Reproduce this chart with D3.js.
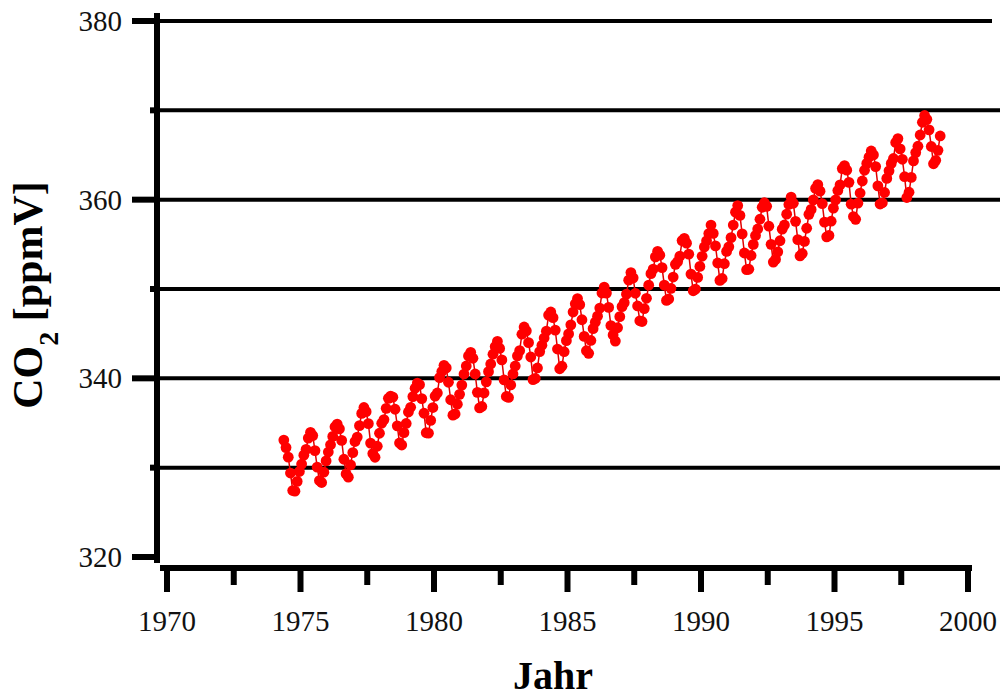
<!DOCTYPE html>
<html>
<head>
<meta charset="utf-8">
<script src="https://cdn.jsdelivr.net/npm/d3@7"></script>
<style>
html,body{margin:0;padding:0;background:#fff;}
svg{display:block;}
</style>
</head>
<body>
<svg id="chart" width="1000" height="698"></svg>
<script>
// Mauna Loa monthly CO2 (ppmV), May 1974 – Dec 1998
const years = [1974,1975,1976,1977,1978,1979,1980,1981,1982,1983,1984,1985,1986,1987,1988,1989,1990,1991,1992,1993,1994,1995,1996,1997,1998];
const co2_1974 = [null,null,null,null,333.09,332.25,331.18,329.40,327.44,327.37,328.46,329.57];
const co2_1975 = [330.40,331.40,332.04,333.31,333.96,333.59,331.91,330.06,328.56,328.34,329.49,330.76];
const co2_1976 = [331.75,332.56,333.50,334.58,334.87,334.34,333.05,330.94,329.30,328.94,330.31,331.68];
const co2_1977 = [332.93,333.42,334.70,336.07,336.74,336.27,334.93,332.75,331.58,331.16,332.40,333.85];
const co2_1978 = [334.97,335.38,336.64,337.76,338.01,337.89,336.54,334.68,332.76,332.54,333.92,334.95];
const co2_1979 = [336.23,336.76,337.96,338.89,339.47,339.29,337.73,336.09,333.91,333.86,335.29,336.73];
const co2_1980 = [338.01,338.36,340.08,340.77,341.46,341.17,339.56,337.60,335.88,336.01,337.10,338.21];
const co2_1981 = [339.24,340.48,341.38,342.51,342.91,342.25,340.49,338.43,336.69,336.85,338.36,339.61];
const co2_1982 = [340.75,341.61,342.70,343.56,344.13,343.35,342.06,339.82,337.97,337.86,339.26,340.49];
const co2_1983 = [341.38,342.52,343.10,344.94,345.75,345.32,343.99,342.39,339.86,339.99,341.16,342.99];
const co2_1984 = [343.70,344.51,345.28,347.08,347.43,346.79,345.40,343.28,341.07,341.35,342.98,344.22];
const co2_1985 = [344.97,345.99,347.42,348.35,348.93,348.25,346.56,344.69,343.09,342.80,344.24,345.56];
const co2_1986 = [346.29,346.96,347.86,349.55,350.21,349.54,347.94,345.91,344.86,344.17,345.66,346.90];
const co2_1987 = [348.02,348.47,349.42,350.99,351.84,351.25,349.52,348.10,346.44,346.36,347.81,348.96];
const co2_1988 = [350.43,351.72,352.22,353.59,354.22,353.79,352.39,350.44,348.72,348.88,350.07,351.34];
const co2_1989 = [352.76,353.07,353.68,355.42,355.67,355.13,353.90,351.67,349.80,349.99,351.30,352.53];
const co2_1990 = [353.66,354.70,355.39,356.20,357.16,356.22,354.82,352.91,350.96,351.18,352.83,354.21];
const co2_1991 = [354.72,355.75,357.16,358.60,359.34,358.24,356.17,354.03,352.16,352.21,353.75,354.99];
const co2_1992 = [355.99,356.72,357.81,359.15,359.66,359.25,357.03,355.00,353.01,353.31,354.16,355.40];
const co2_1993 = [356.70,357.17,358.38,359.46,360.28,359.60,357.57,355.52,353.70,353.98,355.33,356.80];
const co2_1994 = [358.36,358.91,359.97,361.26,361.68,360.95,359.55,357.49,355.84,356.00,357.59,359.05];
const co2_1995 = [359.98,361.03,361.66,363.48,363.82,363.30,361.94,359.50,358.11,357.80,359.61,360.74];
const co2_1996 = [362.09,363.29,364.06,364.76,365.45,365.01,363.70,361.54,359.51,359.65,360.80,362.38];
const co2_1997 = [363.23,364.06,364.61,366.40,366.84,365.68,364.52,362.57,360.24,360.83,362.49,364.34];
const co2_1998 = [365.27,365.98,367.24,368.66,369.42,368.99,367.82,365.95,364.02,364.40,365.52,367.13];
const co2ByYear = [co2_1974,co2_1975,co2_1976,co2_1977,co2_1978,co2_1979,co2_1980,co2_1981,co2_1982,co2_1983,co2_1984,co2_1985,co2_1986,co2_1987,co2_1988,co2_1989,co2_1990,co2_1991,co2_1992,co2_1993,co2_1994,co2_1995,co2_1996,co2_1997,co2_1998];

const xMajorTicks = [1970,1975,1980,1985,1990,1995,2000];
const xMinorTicks = [1972.5,1977.5,1982.5,1987.5,1992.5,1997.5];
const yMajorTicks = [320,340,360,380];
const yMinorTicks = [330,350,370];
const gridValues = [330,340,350,360,370,380];
const xTitle = "Jahr";

// build table
const data = [];
years.forEach((yr, i) => {
  co2ByYear[i].forEach((v, m) => {
    if (v !== null) data.push({t: yr + (m + 0.5) / 12, v: v});
  });
});

const svg = d3.select("#chart");
const x = d3.scaleLinear().domain([1970, 2000]).range([167, 968]);
const y = d3.scaleLinear().domain([320, 380]).range([557, 21]);
const axisX = 157;   // y-axis line position
const axisY = 568;   // x-axis line position
const serif = "'Liberation Serif', 'Times New Roman', serif";

// gridlines
svg.append("g").selectAll("line").data(gridValues).join("line")
  .attr("x1", axisX).attr("x2", d => d === 380 ? 992 : 1000)
  .attr("y1", d => y(d)).attr("y2", d => y(d))
  .attr("stroke", "#000").attr("stroke-width", 4);

// y axis line
svg.append("line").attr("x1", axisX).attr("x2", axisX)
  .attr("y1", 13).attr("y2", 563).attr("stroke", "#000").attr("stroke-width", 6);

// y major ticks
svg.append("g").selectAll("line").data(yMajorTicks).join("line")
  .attr("x1", 132).attr("x2", axisX).attr("y1", d => y(d)).attr("y2", d => y(d))
  .attr("stroke", "#000").attr("stroke-width", 6);
// y minor ticks
svg.append("g").selectAll("line").data(yMinorTicks).join("line")
  .attr("x1", 150).attr("x2", axisX).attr("y1", d => y(d)).attr("y2", d => y(d))
  .attr("stroke", "#000").attr("stroke-width", 6);
// y labels
svg.append("g").selectAll("text").data(yMajorTicks).join("text")
  .attr("x", 122).attr("y", d => y(d)).attr("dy", "0.35em")
  .attr("text-anchor", "end")
  .style("font-family", serif).style("font-size", "29px").attr("fill", "#111")
  .text(d => d);

// x axis line
svg.append("line").attr("x1", 160).attr("x2", 972)
  .attr("y1", axisY).attr("y2", axisY).attr("stroke", "#000").attr("stroke-width", 6);
// x major ticks
svg.append("g").selectAll("line").data(xMajorTicks).join("line")
  .attr("x1", d => x(d)).attr("x2", d => x(d)).attr("y1", axisY).attr("y2", 592)
  .attr("stroke", "#000").attr("stroke-width", 6);
// x minor ticks
svg.append("g").selectAll("line").data(xMinorTicks).join("line")
  .attr("x1", d => x(d)).attr("x2", d => x(d)).attr("y1", axisY).attr("y2", 585)
  .attr("stroke", "#000").attr("stroke-width", 6);
// x labels
svg.append("g").selectAll("text").data(xMajorTicks).join("text")
  .attr("x", d => x(d)).attr("y", 631)
  .attr("text-anchor", "middle")
  .style("font-family", serif).style("font-size", "29px").attr("fill", "#111")
  .text(d => d);

// axis titles
svg.append("text").attr("x", 553).attr("y", 689).attr("text-anchor", "middle")
  .style("font-family", serif).style("font-size", "40px").style("font-weight", "bold")
  .text(xTitle);

const yt = svg.append("text").attr("transform", "translate(42,295) rotate(-90)")
  .attr("text-anchor", "middle")
  .style("font-family", serif).style("font-size", "42px").style("font-weight", "bold");
yt.append("tspan").text("CO");
yt.append("tspan").attr("baseline-shift", "sub").style("font-size", "28px").text("2");
yt.append("tspan").text(" [ppmV]");

// series line + points
const line = d3.line().x(d => x(d.t)).y(d => y(d.v));
svg.append("path").datum(data).attr("d", line)
  .attr("fill", "none").attr("stroke", "#e00000").attr("stroke-width", 1.5);
svg.append("g").selectAll("circle").data(data).join("circle")
  .attr("cx", d => x(d.t)).attr("cy", d => y(d.v)).attr("r", 5.4)
  .attr("fill", "#ff0000");
</script>
</body>
</html>
